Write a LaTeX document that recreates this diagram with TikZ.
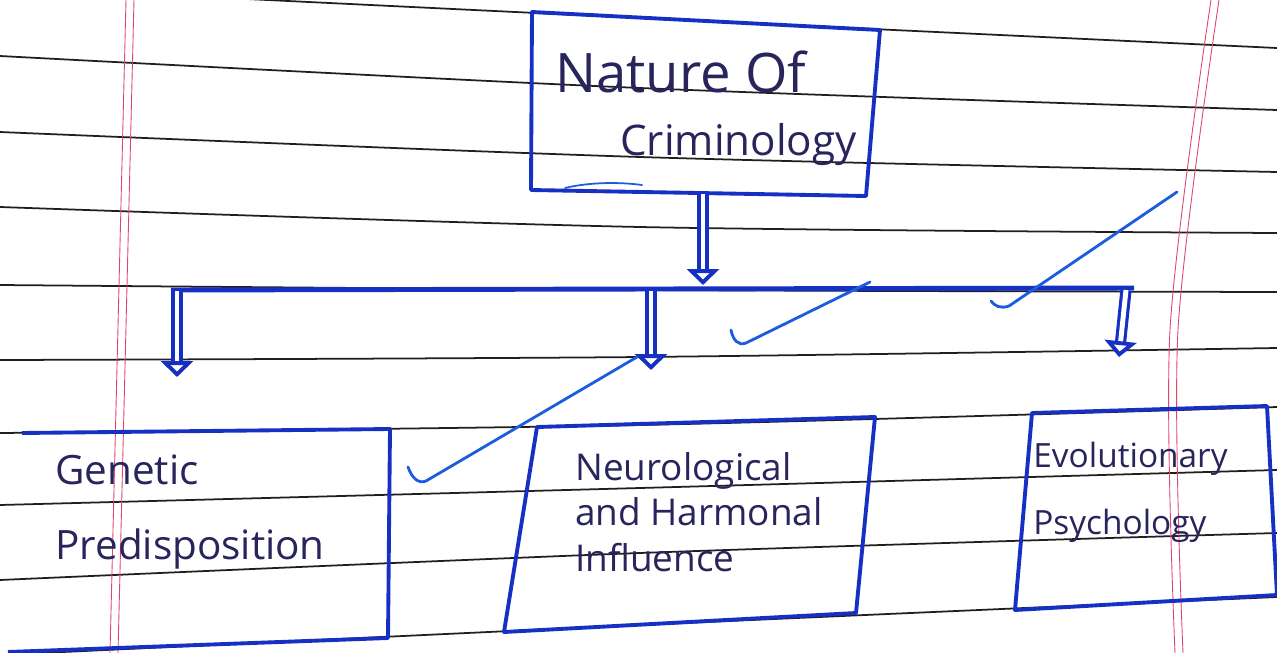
\documentclass[tikz,border=0pt]{standalone}
\usepackage{fontspec}
\setmainfont{Open Sans}
\usetikzlibrary{arrows.meta}

\definecolor{penblue}{RGB}{22,48,196}
\definecolor{tickblue}{RGB}{28,92,222}
\definecolor{ruleink}{RGB}{35,30,30}
\definecolor{marginred}{RGB}{222,70,110}
\definecolor{handink}{RGB}{40,36,92}

\tikzset{
  ruled/.style={ruleink,line width=1pt},
  margin/.style={marginred,line width=.5pt},
  pen/.style={penblue,line width=2.2pt,line join=round},
  chute/.style={penblue,line width=1.8pt,double=white,double distance=2.8pt,
    -{Triangle[open,length=9pt,width=18pt,line width=2.2pt,fill=white]}},
  tick/.style={tickblue,line width=1.6pt,line cap=round},
  hand/.style={handink,inner sep=0pt,anchor=west,align=left},
}

\begin{document}
\begin{tikzpicture}[x=.2mm,y=-.2mm]
\path[use as bounding box] (0,0) rectangle (1277,653);
\clip (0,0) rectangle (1277,653);
\fill[white] (0,0) rectangle (1277,653);
% ruled paper
\foreach \a/\b/\c in {-13/18/48,56/88/110,132/157/172,207/227/233,285/290/292,360/357/348,433/425/407,505/488/470,580/553/533,655/625/597}
  \draw[ruled] plot[smooth] coordinates {(0,\a) (640,\b) (1277,\c)};
% margins
\draw[margin] (126,0) -- (110,653);
\draw[margin] (134,0) -- (118,653);
\draw[margin] plot[smooth] coordinates {(1211,0) (1170,330) (1175,653)};
\draw[margin] plot[smooth] coordinates {(1219,0) (1178,330) (1183,653)};

% boxes
\draw[pen] (532,12) -- (880,30) -- (866,196) -- (531,190) -- cycle;
\draw[pen] (22,433) -- (390,429) -- (388,638) -- (8,652);
\draw[pen] (537,427) -- (875,417) -- (856,613) -- (504,632) -- cycle;
\draw[pen] (1032,413) -- (1267,406) -- (1277,595) -- (1015,610) -- cycle;
\draw[tick,line width=1pt] (565,188) .. controls (590,182) and (620,182) .. (642,185);

% labels
\node[hand,font=\fontsize{31}{36}\selectfont] (nature) at (555,72) {Nature Of};
\node[hand,font=\fontsize{24}{30}\selectfont] (crim) at (620,145) {Criminology};
\node[hand,font=\fontsize{23}{43}\selectfont] (genetic) at (55,512) {Genetic\\Predisposition};
\node[hand,font=\fontsize{21}{26}\selectfont] (neuro) at (575,512) {Neurological\\and Harmonal\\Influence};
\node[hand,font=\fontsize{19}{38}\selectfont] (evol) at (1033,492) {Evolutionary\\Psychology};

% connectors
\coordinate (nat-s) at (703,194);
\coordinate (bar-c) at (703,285);
\coordinate (bar-w) at (171,290);
\coordinate (bar-e) at (1134,288);
\coordinate (drop-g) at (177,291);
\coordinate (drop-n) at (651,291);
\coordinate (drop-e) at (1126,290);
\coordinate (tip-g) at (177,377);
\coordinate (tip-n) at (651,370);
\coordinate (tip-e) at (1119,357);
\draw[chute] (nat-s) -- (bar-c);
\draw[pen,line width=2.8pt] (bar-w) -- (bar-e);
\draw[chute] (drop-g) -- (tip-g);
\draw[chute] (drop-n) -- (tip-n);
\draw[chute] (drop-e) -- (tip-e);

% ticks
\draw[tick] (408,467) .. controls (412,478) and (418,484) .. (426,481) -- (637,357);
\draw[tick] (731,330) .. controls (733,340) and (738,346) .. (746,343) -- (870,282);
\draw[tick] (991,301) .. controls (995,306) and (1000,309) .. (1009,306) -- (1177,192);
\end{tikzpicture}
\end{document}
